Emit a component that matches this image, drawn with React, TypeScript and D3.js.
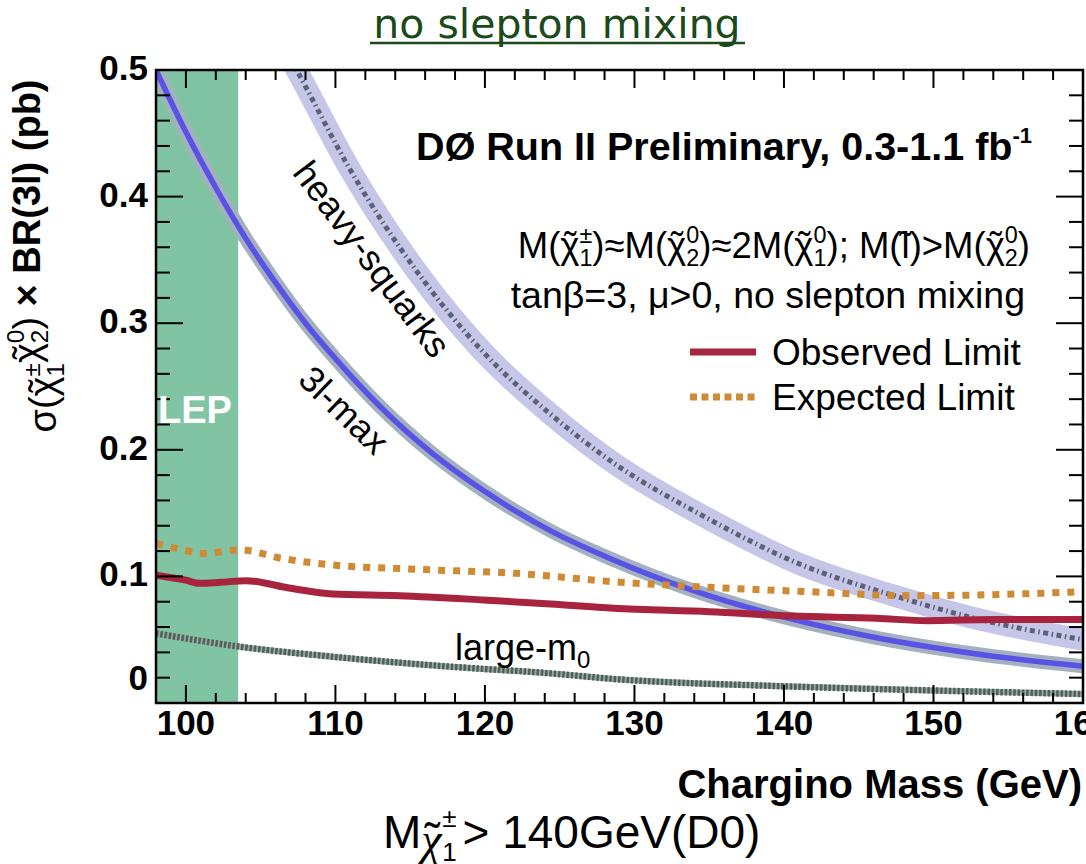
import React from "react";
import * as d3 from "d3";

// ---------- data ----------
const lepMassMin = 98;
const lepMassMax = 103.5;

const observedMass = [98, 100, 100.9, 102.3, 104, 107, 109.8, 114.3, 119.9, 124.4, 128.6, 135, 140.6, 146.2, 149.6, 154, 160];
const observedXsec = [0.101, 0.097, 0.0945, 0.0953, 0.0966, 0.0906, 0.0861, 0.0848, 0.0814, 0.0782, 0.0748, 0.0721, 0.0687, 0.0669, 0.065, 0.066, 0.066];

const expectedMass = [98, 99.8, 101.1, 103.6, 106.5, 109.8, 115.5, 122.1, 128.6, 135, 141.7, 148.4, 152.9, 160];
const expectedXsec = [0.126, 0.121, 0.118, 0.121, 0.114, 0.109, 0.1056, 0.1024, 0.0958, 0.0914, 0.0879, 0.0848, 0.0853, 0.0879];

const largeM0Mass = [98, 103.6, 109.8, 117.7, 124.4, 128.6, 139.5, 150.6, 160];
const largeM0Xsec = [0.055, 0.0445, 0.0366, 0.0287, 0.0234, 0.019, 0.0134, 0.0097, 0.0071];

const threeLMaxMass = [98, 100, 102, 104, 106, 108, 110, 113, 116.5, 120, 124.4, 128.4, 134, 140.6, 146.2, 152.9, 160];
const threeLMaxXsec = [0.5, 0.451, 0.407, 0.367, 0.332, 0.3, 0.272, 0.234, 0.197, 0.167, 0.136, 0.114, 0.0885, 0.066, 0.0515, 0.0387, 0.029];

const heavySquarksMass = [106.2, 107.4, 111, 115.5, 119.9, 124.4, 128.8, 134.4, 141, 147.3, 152.9, 160];
const heavySquarksXsec = [0.525, 0.5, 0.421, 0.34, 0.277, 0.228, 0.188, 0.149, 0.11, 0.085, 0.0665, 0.05];

const xMajorTicks = [100, 110, 120, 130, 140, 150, 160];
const yMajorTicks = [0, 0.1, 0.2, 0.3, 0.4, 0.5];
const yTickLabels = ["0", "0.1", "0.2", "0.3", "0.4", "0.5"];

// ---------- layout ----------
const W = 1086;
const H = 864;
const x = d3.scaleLinear().domain([98, 160]).range([156, 1083]);
const y = d3.scaleLinear().domain([0, 0.5]).range([703, 70]);

const SANS = "'Liberation Sans', Arial, Helvetica, sans-serif";
const SERIF = "'Liberation Serif', 'Times New Roman', serif";

type P = [number, number];
const zip = (a: number[], b: number[]): P[] => a.map((m, i) => [m, b[i]]);

const line = d3
  .line<P>()
  .x((d) => x(d[0]))
  .y((d) => y(d[1]))
  .curve(d3.curveMonotoneX);

const xMinor = d3.range(98, 160.001, 2);
const yMinor = d3.range(0, 0.5001, 0.02);

// chi with tilde, subscript and stacked superscript, followed by `after`
// text set back on the baseline.
function chiT(
  k: string,
  fs: number,
  sub: string,
  sup: string,
  after: string,
  opts: {
    chiW?: number;
    chiDy?: number;
    family?: string;
    italic?: boolean;
    subFs?: number;
    subDy?: number;
    supDy?: number;
    afterDx?: number;
  } = {}
) {
  const chiW = (opts.chiW ?? 0.5) * fs;
  const chiDy = opts.chiDy ?? 0;
  const tildeW = 0.333 * fs;
  const subFs = opts.subFs ?? fs * 0.64;
  const subDy = opts.subDy ?? fs * 0.22;
  const supDy = opts.supDy ?? -fs * 0.42;
  const shift = opts.italic ? fs * 0.06 : 0;
  return [
    <tspan key={k + "c"} fontFamily={opts.family} fontStyle={opts.italic ? "italic" : undefined} dy={chiDy}>
      {"\u03C7"}
    </tspan>,
    <tspan key={k + "t"} fontFamily={SANS} dx={-(chiW + tildeW) / 2 + shift}>
      {"\u02DC"}
    </tspan>,
    <tspan key={k + "s"} fontSize={subFs} dx={(chiW - tildeW) / 2 - shift} dy={subDy}>
      {sub}
    </tspan>,
    <tspan key={k + "p"} fontSize={subFs} dx={-0.556 * subFs} dy={supDy - subDy}>
      {sup}
    </tspan>,
    <tspan key={k + "r"} dx={opts.afterDx ?? 0} dy={-supDy - chiDy}>
      {after}
    </tspan>,
  ];
}

export default function App() {
  const x0 = x.range()[0];
  const x1 = x.range()[1];
  const y0 = y.range()[0];
  const y1 = y.range()[1];
  const isMajorY = (v: number) => Math.abs(v * 10 - Math.round(v * 10)) < 1e-6;
  const isMajorX = (v: number) => Math.abs(v % 10) < 1e-6;

  const hsPath = line(zip(heavySquarksMass, heavySquarksXsec)) || "";
  const tlPath = line(zip(threeLMaxMass, threeLMaxXsec)) || "";
  const lmPath = line(zip(largeM0Mass, largeM0Xsec)) || "";

  return (
    <svg
      width={W}
      height={H}
      style={{ position: "absolute", left: 0, top: 0, background: "#fff" }}
      fontFamily={SANS}
    >
      <rect x={0} y={0} width={W} height={H} fill="#fff" />
      <defs>
        <clipPath id="plotClip">
          <rect x={x0} y={y1} width={x1 - x0} height={y0 - y1} />
        </clipPath>
      </defs>

      {/* title */}
      <text x={557} y={38} textAnchor="middle" fontFamily="'DejaVu Sans', sans-serif" fontSize={41} fill="#1b4a1b">
        no slepton mixing
      </text>
      <line x1={370} x2={745} y1={43} y2={43} stroke="#1b4a1b" strokeWidth={2.5} />

      {/* LEP excluded band */}
      <rect
        x={x(lepMassMin)}
        y={y1}
        width={x(lepMassMax) - x(lepMassMin)}
        height={y0 - y1}
        fill="#80c4a4"
      />

      <g clipPath="url(#plotClip)">
        {/* theory bands */}
        <path d={hsPath} fill="none" stroke="#c6c7e8" strokeWidth={22} />
        <path d={tlPath} fill="none" stroke="#a3b0bf" strokeWidth={14} />
        {/* theory lines */}
        <path d={hsPath} fill="none" stroke="#5c6078" strokeWidth={5} strokeDasharray="5 3.5 1.5 3.5" />
        <path d={tlPath} fill="none" stroke="#5a52e4" strokeWidth={5.5} />
        <path d={lmPath} fill="none" stroke="#9aaaa2" strokeWidth={6} />
        <path d={lmPath} fill="none" stroke="#4e6158" strokeWidth={6.5} strokeDasharray="2.5 1.8" />
        {/* limits */}
        <path
          d={line(zip(expectedMass, expectedXsec)) || ""}
          fill="none"
          stroke="#cf8a34"
          strokeWidth={7}
          strokeDasharray="7 8"
        />
        <path d={line(zip(observedMass, observedXsec)) || ""} fill="none" stroke="#a8243e" strokeWidth={7} />
      </g>

      {/* frame */}
      <rect x={x0} y={y1} width={x1 - x0} height={y0 - y1} fill="none" stroke="#000" strokeWidth={2.5} />

      {/* x ticks (bottom and top) */}
      {xMinor.map((v) => {
        const len = isMajorX(v) ? 18 : 10;
        return (
          <g key={"xt" + v}>
            <line x1={x(v)} x2={x(v)} y1={y0} y2={y0 - len} stroke="#000" strokeWidth={2} />
            <line x1={x(v)} x2={x(v)} y1={y1} y2={y1 + len} stroke="#000" strokeWidth={2} />
          </g>
        );
      })}
      {/* y ticks (left and right) */}
      {yMinor.map((v) => {
        const len = isMajorY(v) ? 27 : 14;
        return (
          <g key={"yt" + v.toFixed(2)}>
            <line x1={x0} x2={x0 + len} y1={y(v)} y2={y(v)} stroke="#000" strokeWidth={2} />
            <line x1={x1} x2={x1 - len} y1={y(v)} y2={y(v)} stroke="#000" strokeWidth={2} />
          </g>
        );
      })}

      {/* y tick labels */}
      {yMajorTicks.map((v, i) => (
        <text
          key={"yl" + i}
          x={148}
          y={(v === 0 ? y(v) - 25 : y(v) - 2) + 12}
          textAnchor="end"
          fontWeight="bold"
          fontSize={35}
        >
          {yTickLabels[i]}
        </text>
      ))}
      {/* x tick labels */}
      {xMajorTicks.map((v) => (
        <text key={"xl" + v} x={x(v)} y={735} textAnchor="middle" fontWeight="bold" fontSize={35}>
          {v}
        </text>
      ))}

      {/* axis titles */}
      <text x={1082} y={798} textAnchor="end" fontWeight="bold" fontSize={40}>
        Chargino Mass (GeV)
      </text>
      <text transform="translate(56, 256) rotate(-90)" textAnchor="middle" fontSize={38} style={{ whiteSpace: "pre" }}>
        <tspan>{"\u03C3("}</tspan>
        {chiT("a", 38, "1", "\u00B1", "")}
        {chiT("b", 38, "2", "0", ")")}
        <tspan fontWeight="bold">{" \u00D7 BR(3l) (pb)"}</tspan>
      </text>

      {/* annotations */}
      <text x={1032} y={160} textAnchor="end" fontWeight="bold" fontSize={39.5}>
        DØ Run II Preliminary, 0.3-1.1 fb
        <tspan fontSize={22} dy={-17}>-1</tspan>
      </text>
      <text x={1030} y={258} textAnchor="end" fontSize={36.5} style={{ whiteSpace: "pre" }}>
        <tspan>M(</tspan>
        {chiT("c", 36.5, "1", "\u00B1", ")\u2248M(")}
        {chiT("d", 36.5, "2", "0", ")\u22482M(")}
        {chiT("e", 36.5, "1", "0", "); M(")}
        <tspan>l</tspan>
        <tspan dx={-(0.222 + 0.333) * 36.5 / 2}>{"\u02DC"}</tspan>
        <tspan dx={(0.222 - 0.333) * 36.5 / 2}>{")>M("}</tspan>
        {chiT("f", 36.5, "2", "0", ")")}
      </text>
      <text x={1025} y={308} textAnchor="end" fontSize={37.5}>
        tanβ=3, μ&gt;0, no slepton mixing
      </text>

      {/* legend */}
      <line x1={690} x2={756} y1={352} y2={352} stroke="#a8243e" strokeWidth={7} />
      <text x={772} y={365} fontSize={37}>Observed Limit</text>
      <line x1={690} x2={756} y1={397} y2={397} stroke="#cf8a34" strokeWidth={7} strokeDasharray="7 4.5" />
      <text x={772} y={410} fontSize={37}>Expected Limit</text>

      {/* curve labels */}
      <text transform="translate(372, 259) rotate(53)" textAnchor="middle" dominantBaseline="central" fontSize={36}>
        heavy-squarks
      </text>
      <text transform="translate(344, 410) rotate(44)" textAnchor="middle" dominantBaseline="central" fontSize={36}>
        3l-max
      </text>
      <text x={158} y={423} fontWeight="bold" fontSize={38} fill="#fff">
        LEP
      </text>
      <text x={455} y={660} fontSize={36}>
        large-m<tspan fontSize={24} dy={8}>0</tspan>
      </text>

      {/* bottom statement */}
      <text x={383} y={848} fontSize={46} style={{ whiteSpace: "pre" }}>
        <tspan>M</tspan>
        {chiT("g", 44, "1", "\u00B1", "> 140GeV(D0)", {
          family: SERIF,
          italic: true,
          chiW: 0.55,
          chiDy: 7,
          subFs: 26,
          subDy: 6,
          supDy: -28,
          afterDx: 6,
        })}
      </text>
    </svg>
  );
}
